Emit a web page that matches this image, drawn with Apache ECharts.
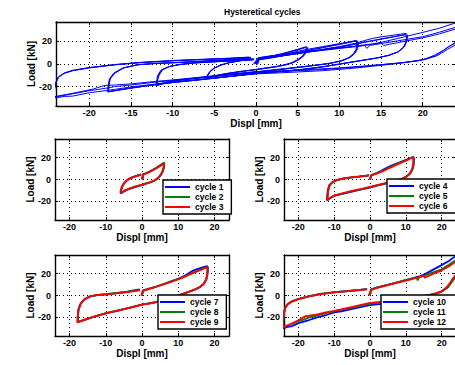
<!DOCTYPE html>
<html><head><meta charset="utf-8">
<script src="https://cdn.jsdelivr.net/npm/echarts@6/dist/echarts.min.js"></script>
<style>html,body{margin:0;padding:0;background:#fff}#c{width:455px;height:365px}</style>
</head><body><div id="c"></div>
<script>
// ---- DATA (displacement [mm], load [kN]) ----
const cycle1 = [[0,0.3],[0.3,4.9],[1,5.7],[2,7.1],[3,8.9],[4,10.8],[5,12.9],[5.9,14.8],[6.1,14.3],[6.0,11],[5.7,7.4],[5.1,3.8],[4.3,0.9],[3.4,-1],[2.4,-2.5],[1.2,-3.8],[0,-5.1],[-1.5,-6.5],[-3,-8.1],[-4,-9.3],[-5,-10.9],[-5.9,-12.9],[-5.9,-10.6],[-5.6,-7],[-5.1,-3.9],[-4.3,-1],[-3.3,1.2],[-2,2.9],[-1,3.9],[-0.3,4.6]];
const cycle2 = [[0,0],[0.3,4.7],[1,5.5],[2,6.9],[3,8.8],[4,10.7],[5,12.8],[6.1,15.3],[6.2,14.6],[6.1,11.3],[5.8,7.6],[5.2,4],[4.4,1],[3.5,-0.9],[2.4,-2.4],[1.2,-3.6],[0,-4.9],[-1.5,-6.3],[-3,-7.9],[-4,-9.1],[-5,-10.6],[-5.8,-12.6],[-5.8,-10.4],[-5.5,-6.8],[-5,-3.8],[-4.2,-1],[-3.2,1.1],[-2,2.7],[-1,3.7],[-0.3,4.4]];
const cycle3 = [[0.2,-0.5],[0.4,4.6],[1,5.3],[2,6.6],[3,8.4],[4,10.3],[5,12.4],[5.9,14.4],[6.0,13.6],[5.9,10.6],[5.6,7.2],[5,3.8],[4.2,0.9],[3.3,-0.9],[2.3,-2.3],[1.1,-3.5],[0,-4.7],[-1.5,-6.1],[-3,-7.7],[-4,-8.9],[-5,-10.4],[-5.7,-12.4],[-5.8,-10.2],[-5.5,-6.6],[-5,-3.6],[-4.2,-0.8],[-3.2,1.2],[-2,2.7],[-1,3.6],[-0.2,4.3]];

const cycle4 = [[0,0.2],[0.3,4],[1,4.8],[2,6.2],[3,7.8],[4,9.5],[5,11.2],[6,12.7],[7,14],[8,15.3],[9,16.6],[10,17.9],[11,19.2],[12.1,20.8],[12.3,18.5],[12.2,13.5],[11.9,9.5],[11.3,5.8],[10.4,3],[9.2,1],[8,-0.4],[6,-2.3],[4,-4],[2,-5.7],[0,-7.4],[-2,-8.8],[-5,-11],[-8,-13.4],[-10,-15],[-11,-16.8],[-12,-19.2],[-11.9,-14],[-11.8,-10],[-11.4,-5.4],[-10.5,-2.4],[-9.2,-0.6],[-7.5,0.8],[-5,1.9],[-3,2.6],[-1,3.4],[-0.3,3.7]];
const cycle5 = [[0,0],[0.3,3.8],[1,4.6],[2,5.8],[3,7.2],[4,8.7],[5,10.3],[6,11.8],[7,13.3],[8,14.7],[9,16.1],[10,17.5],[11,18.9],[12.0,20.5],[12.2,18.2],[12.1,13.2],[11.8,9.3],[11.2,5.6],[10.3,2.9],[9.1,0.9],[8,-0.3],[6,-2.1],[4,-3.8],[2,-5.4],[0,-7.0],[-2,-8.5],[-5,-10.7],[-8,-13.1],[-10,-14.8],[-11,-16.6],[-11.9,-19],[-11.8,-13.8],[-11.7,-9.8],[-11.3,-5.2],[-10.4,-2.2],[-9.1,-0.4],[-7.4,0.9],[-5,2],[-3,2.7],[-1,3.5],[-0.3,3.8]];
const cycle6 = [[0.1,-0.3],[0.3,3.6],[1,4.4],[2,5.5],[3,6.8],[4,8.2],[5,9.8],[6,11.3],[7,12.8],[8,14.3],[9,15.8],[10,17.2],[11,18.7],[12.0,20.3],[12.1,18],[12.0,13],[11.7,9.1],[11.1,5.5],[10.2,2.8],[9,0.8],[8,-0.2],[6,-2],[4,-3.6],[2,-5.2],[0,-6.8],[-2,-8.3],[-5,-10.5],[-8,-12.9],[-10,-14.6],[-11,-16.4],[-11.9,-18.8],[-11.8,-13.6],[-11.6,-9.6],[-11.2,-5],[-10.3,-2],[-9,-0.2],[-7.3,1.1],[-5,2.2],[-3,2.9],[-1,3.6],[-0.3,3.9]];

const cycle7 = [[0,0.3],[0.3,4.6],[2,6.3],[4,8.2],[6,10.5],[8,12.9],[10,15.3],[11,16.8],[12,18.4],[13,20.6],[14,22.6],[15,23.9],[16.5,25.4],[18.0,26.9],[18.2,25.5],[18.1,20],[17.8,15],[17.1,10.8],[16,7.8],[14.5,5.3],[13,3.6],[11,1.2],[8,-2.4],[6,-4.3],[4,-5.9],[2,-7.1],[0,-8.4],[-3,-10.9],[-6,-13.4],[-10,-16.4],[-13,-19.2],[-15,-21.3],[-17.8,-24.6],[-17.7,-18],[-17.6,-13.4],[-17.1,-8.2],[-16,-3.6],[-14.3,-0.8],[-12,0.5],[-10,1.1],[-7,2.2],[-4,3.6],[-2,4.8],[-0.6,5.7]];
const cycle8 = [[0,0],[0.3,4.3],[2,6.2],[4,8.2],[6,10.5],[8,12.8],[10,15.1],[11,16.4],[12,17.8],[13,19.3],[14,20.7],[15,22.1],[16.5,24.1],[18.0,26],[18.1,24.8],[18.0,19.6],[17.7,14.8],[17,10.6],[15.9,7.6],[14.4,5.2],[13,3.5],[11,1.1],[8,-2.5],[6,-4.4],[4,-6],[2,-7.2],[0,-8.3],[-3,-10.8],[-6,-13.2],[-10,-16.2],[-13,-19],[-15,-21.1],[-17.7,-24.3],[-17.6,-17.8],[-17.5,-13.2],[-17,-8],[-15.9,-3.4],[-14.2,-0.6],[-12,0.6],[-10,1.2],[-7,2.3],[-4,3.5],[-2,4.5],[-0.6,5.2]];
const cycle9 = [[-0.2,-0.3],[0.2,4.2],[2,6],[4,8],[6,10.2],[8,12.5],[10,14.8],[11,16.1],[12,17.5],[13,19],[14,20.4],[15,21.8],[16.5,23.8],[17.9,25.8],[18.1,24.6],[18.0,19.4],[17.7,14.6],[17,10.5],[15.9,7.5],[14.4,5.1],[13,3.4],[11,1],[8,-2.6],[6,-4.5],[4,-6.1],[2,-7.3],[0,-8.4],[-3,-10.9],[-6,-13.3],[-10,-16.3],[-13,-19.1],[-15,-21.2],[-17.8,-24.4],[-17.7,-17.6],[-17.5,-13],[-16.9,-7.8],[-15.8,-3.3],[-14.1,-0.6],[-12,0.5],[-10,1],[-7,2],[-4,3.1],[-2,4],[-0.6,4.6]];

const cycle10 = [[0,0.3],[0.3,5.6],[2,7.4],[4,9],[6,10.6],[8,12.3],[10,14],[12,15.8],[14,17.8],[15,19],[17,22.5],[19.7,27.3],[22,31.5],[24,36.3],[25,38.5],[26,40],[26.3,34],[26,28],[25.3,24],[24.3,19.5],[23.1,15.3],[22.5,12],[21.5,7],[20,3.8],[18,1.4],[15,-1.2],[12,-3.5],[8,-5.9],[4,-7.4],[0,-8.7],[-4,-11.6],[-8,-14.4],[-10,-15.5],[-12,-17.6],[-15,-20.2],[-17,-22.4],[-19,-24.4],[-20,-25.3],[-21,-26.8],[-22,-28.3],[-23,-28.6],[-24.3,-30],[-24.2,-23],[-24,-16.5],[-23.7,-11.5],[-23,-8.1],[-22,-5.8],[-20,-3.3],[-17,-0.7],[-14,1.2],[-10,2.9],[-6,4.1],[-3,5],[-0.8,5.9]];
const cycle11 = [[0,0],[0.3,5.3],[2,7.3],[4,9],[6,10.7],[8,12.5],[10,14.2],[12,15.6],[13,16.5],[13.3,13.8],[13.7,16.5],[15,18],[17,20.4],[20,24],[22,28],[24,32.5],[25.5,35.5],[26,36.5],[26.2,31],[25.8,26],[25,20.5],[24,17],[23,13],[21.8,7.5],[20.2,3.8],[18,1.6],[15,-0.6],[12,-2.8],[8,-4.9],[4,-6.3],[0,-7.5],[-4,-10.3],[-8,-13],[-10,-14.5],[-12,-15.9],[-15,-18.5],[-17,-20],[-18,-21.3],[-19,-22.5],[-20,-23.5],[-22,-26.3],[-24,-29],[-24.4,-29.6],[-24.2,-22.5],[-24,-16],[-23.7,-11.3],[-23,-7.9],[-22,-5.6],[-20,-3.1],[-17,-0.5],[-14,1.4],[-10,3.1],[-6,4.3],[-3,5.2],[-0.8,6.1]];
const cycle12 = [[-0.3,0.2],[0.2,5],[2,7],[4,8.6],[6,10.3],[8,12],[10,13.7],[12,15.3],[13,16.3],[14,17.2],[15,18.4],[15.3,16.2],[16,17.4],[17,18.8],[18,20.3],[19,21.6],[20,23],[22,26.5],[24,31],[25.5,34],[26,35],[26.3,30],[26,25],[25,22],[24.3,21],[23.5,17],[22.5,12],[21.5,8],[20.5,5],[19.5,2.8],[17,0.6],[14,-1.2],[10,-3.4],[6,-5],[3,-5.9],[0,-6.8],[-4,-9.6],[-8,-12.6],[-10,-14],[-12,-15.3],[-15,-17.5],[-17,-18.5],[-18,-18.8],[-18.5,-19.6],[-19.5,-22],[-21,-24.3],[-22.5,-26.5],[-24,-28.5],[-24.4,-29.5],[-24.2,-22],[-24,-16],[-23.7,-11.6],[-23,-8.2],[-22,-5.9],[-20,-3.4],[-17,-0.8],[-14,1.1],[-10,2.8],[-6,4],[-3,4.9],[-0.9,5.7]];

const cycleNames = ['cycle 1','cycle 2','cycle 3','cycle 4','cycle 5','cycle 6','cycle 7','cycle 8','cycle 9','cycle 10','cycle 11','cycle 12'];
const xTicksTop = [-20,-15,-10,-5,0,5,10,15,20];
const xTicksSub = [-20,-10,0,10,20];
const yTicks = [-20,0,20];
const xRange = [-24, 24];
const yRange = [-37, 37];

// ---- CHART ----
const allCycles = [cycle1,cycle2,cycle3,cycle4,cycle5,cycle6,cycle7,cycle8,cycle9,cycle10,cycle11,cycle12];
const lineColors = ['#0000ff','#008000','#ff0000'];
const FONT = '"Liberation Sans", Arial, Helvetica, sans-serif';

const grids = [
  {left:56, top:22, width:400, height:84},
  {left:55, top:139, width:174, height:81},
  {left:284, top:139, width:172, height:81},
  {left:55, top:255, width:174, height:81},
  {left:284, top:255, width:172, height:81}
];
const legendPos = [
  {left:163, top:180, padRight:8},
  {left:387, top:179, padRight:11},
  {left:158, top:295, padRight:8},
  {left:381, top:295, padRight:13}
];

const xAxes = [], yAxes = [];
const gridLine = {show:true, lineStyle:{color:'#000', type:[1,3], width:1}};
const border = {show:true, onZero:false, lineStyle:{color:'#000', width:1.4}};
grids.forEach((g, i) => {
  const xt = i === 0 ? xTicksTop : xTicksSub;
  xAxes.push({
    type:'value', gridIndex:i, min:xRange[0], max:xRange[1], position:'bottom',
    name:'Displ [mm]', nameLocation:'middle', nameGap:12.5, nameMoveOverlap:false,
    nameTextStyle:{fontFamily:FONT, fontWeight:'bold', fontSize:10, color:'#000', lineHeight:10},
    axisLine:border,
    axisTick:{show:true, inside:true, length:3, customValues:xt, lineStyle:{color:'#000'}},
    axisLabel:{customValues:xt, fontFamily:FONT, fontWeight:'bold', fontSize:9, color:'#000', margin:2.5, lineHeight:8},
    splitLine:gridLine
  });
  xAxes.push({
    type:'value', gridIndex:i, min:xRange[0], max:xRange[1], position:'top',
    axisLine:border,
    axisTick:{show:true, inside:true, length:3, customValues:xt, lineStyle:{color:'#000'}},
    axisLabel:{show:false}, splitLine:{show:false}
  });
  yAxes.push({
    type:'value', gridIndex:i, min:yRange[0], max:yRange[1], position:'left',
    name:'Load [kN]', nameLocation:'middle', nameRotate:90, nameGap:20, nameMoveOverlap:false,
    nameTextStyle:{fontFamily:FONT, fontWeight:'bold', fontSize:10, color:'#000'},
    axisLine:border,
    axisTick:{show:true, inside:true, length:3, customValues:yTicks, lineStyle:{color:'#000'}},
    axisLabel:{customValues:yTicks, fontFamily:FONT, fontWeight:'bold', fontSize:9, color:'#000', margin:4},
    splitLine:gridLine
  });
  yAxes.push({
    type:'value', gridIndex:i, min:yRange[0], max:yRange[1], position:'right',
    axisLine:border,
    axisTick:{show:true, inside:true, length:3, customValues:yTicks, lineStyle:{color:'#000'}},
    axisLabel:{show:false}, splitLine:{show:false}
  });
});

const series = [];
// top panel: all cycles in blue
allCycles.forEach((c, k) => {
  series.push({
    type:'line', name:'all ' + cycleNames[k], xAxisIndex:0, yAxisIndex:0, data:c,
    symbol:'none', showSymbol:false, clip:true, color:'#0000ff',
    lineStyle:{color:'#0000ff', width:1}, silent:true, z:2
  });
});
// four detail panels
for (let p = 0; p < 4; p++) {
  for (let j = 0; j < 3; j++) {
    const k = p*3 + j;
    series.push({
      type:'line', name:cycleNames[k], xAxisIndex:2*(p+1), yAxisIndex:2*(p+1), data:allCycles[k],
      symbol:'none', showSymbol:false, clip:true, color:lineColors[j],
      lineStyle:{color:lineColors[j], width:1.8}, silent:true, z:2+j
    });
  }
}

const legends = legendPos.map((pos, p) => ({
  data: cycleNames.slice(p*3, p*3+3),
  left: pos.left, top: pos.top, orient:'vertical',
  icon:'rect', itemWidth:25, itemHeight:2, itemGap:0, itemTextGap:3,
  padding:[2,pos.padRight,2,2],
  backgroundColor:'#fff', borderColor:'#000', borderWidth:1.4, borderRadius:0,
  selectedMode:false,
  textStyle:{fontFamily:FONT, fontWeight:'bold', fontSize:8.5, color:'#000', lineHeight:10},
  z:20
}));

const chart = echarts.init(document.getElementById('c'), null, {renderer:'svg', width:455, height:365});
chart.setOption({
  animation:false,
  backgroundColor:'#fff',
  title:{text:'Hysteretical cycles', left:219, top:2,
    textStyle:{fontFamily:FONT, fontWeight:'bold', fontSize:8.5, color:'#000'}},
  grid: grids.map(g => Object.assign({outerBoundsMode:'none', containLabel:false}, g)),
  xAxis:xAxes, yAxis:yAxes, series:series, legend:legends
});
</script></body></html>
